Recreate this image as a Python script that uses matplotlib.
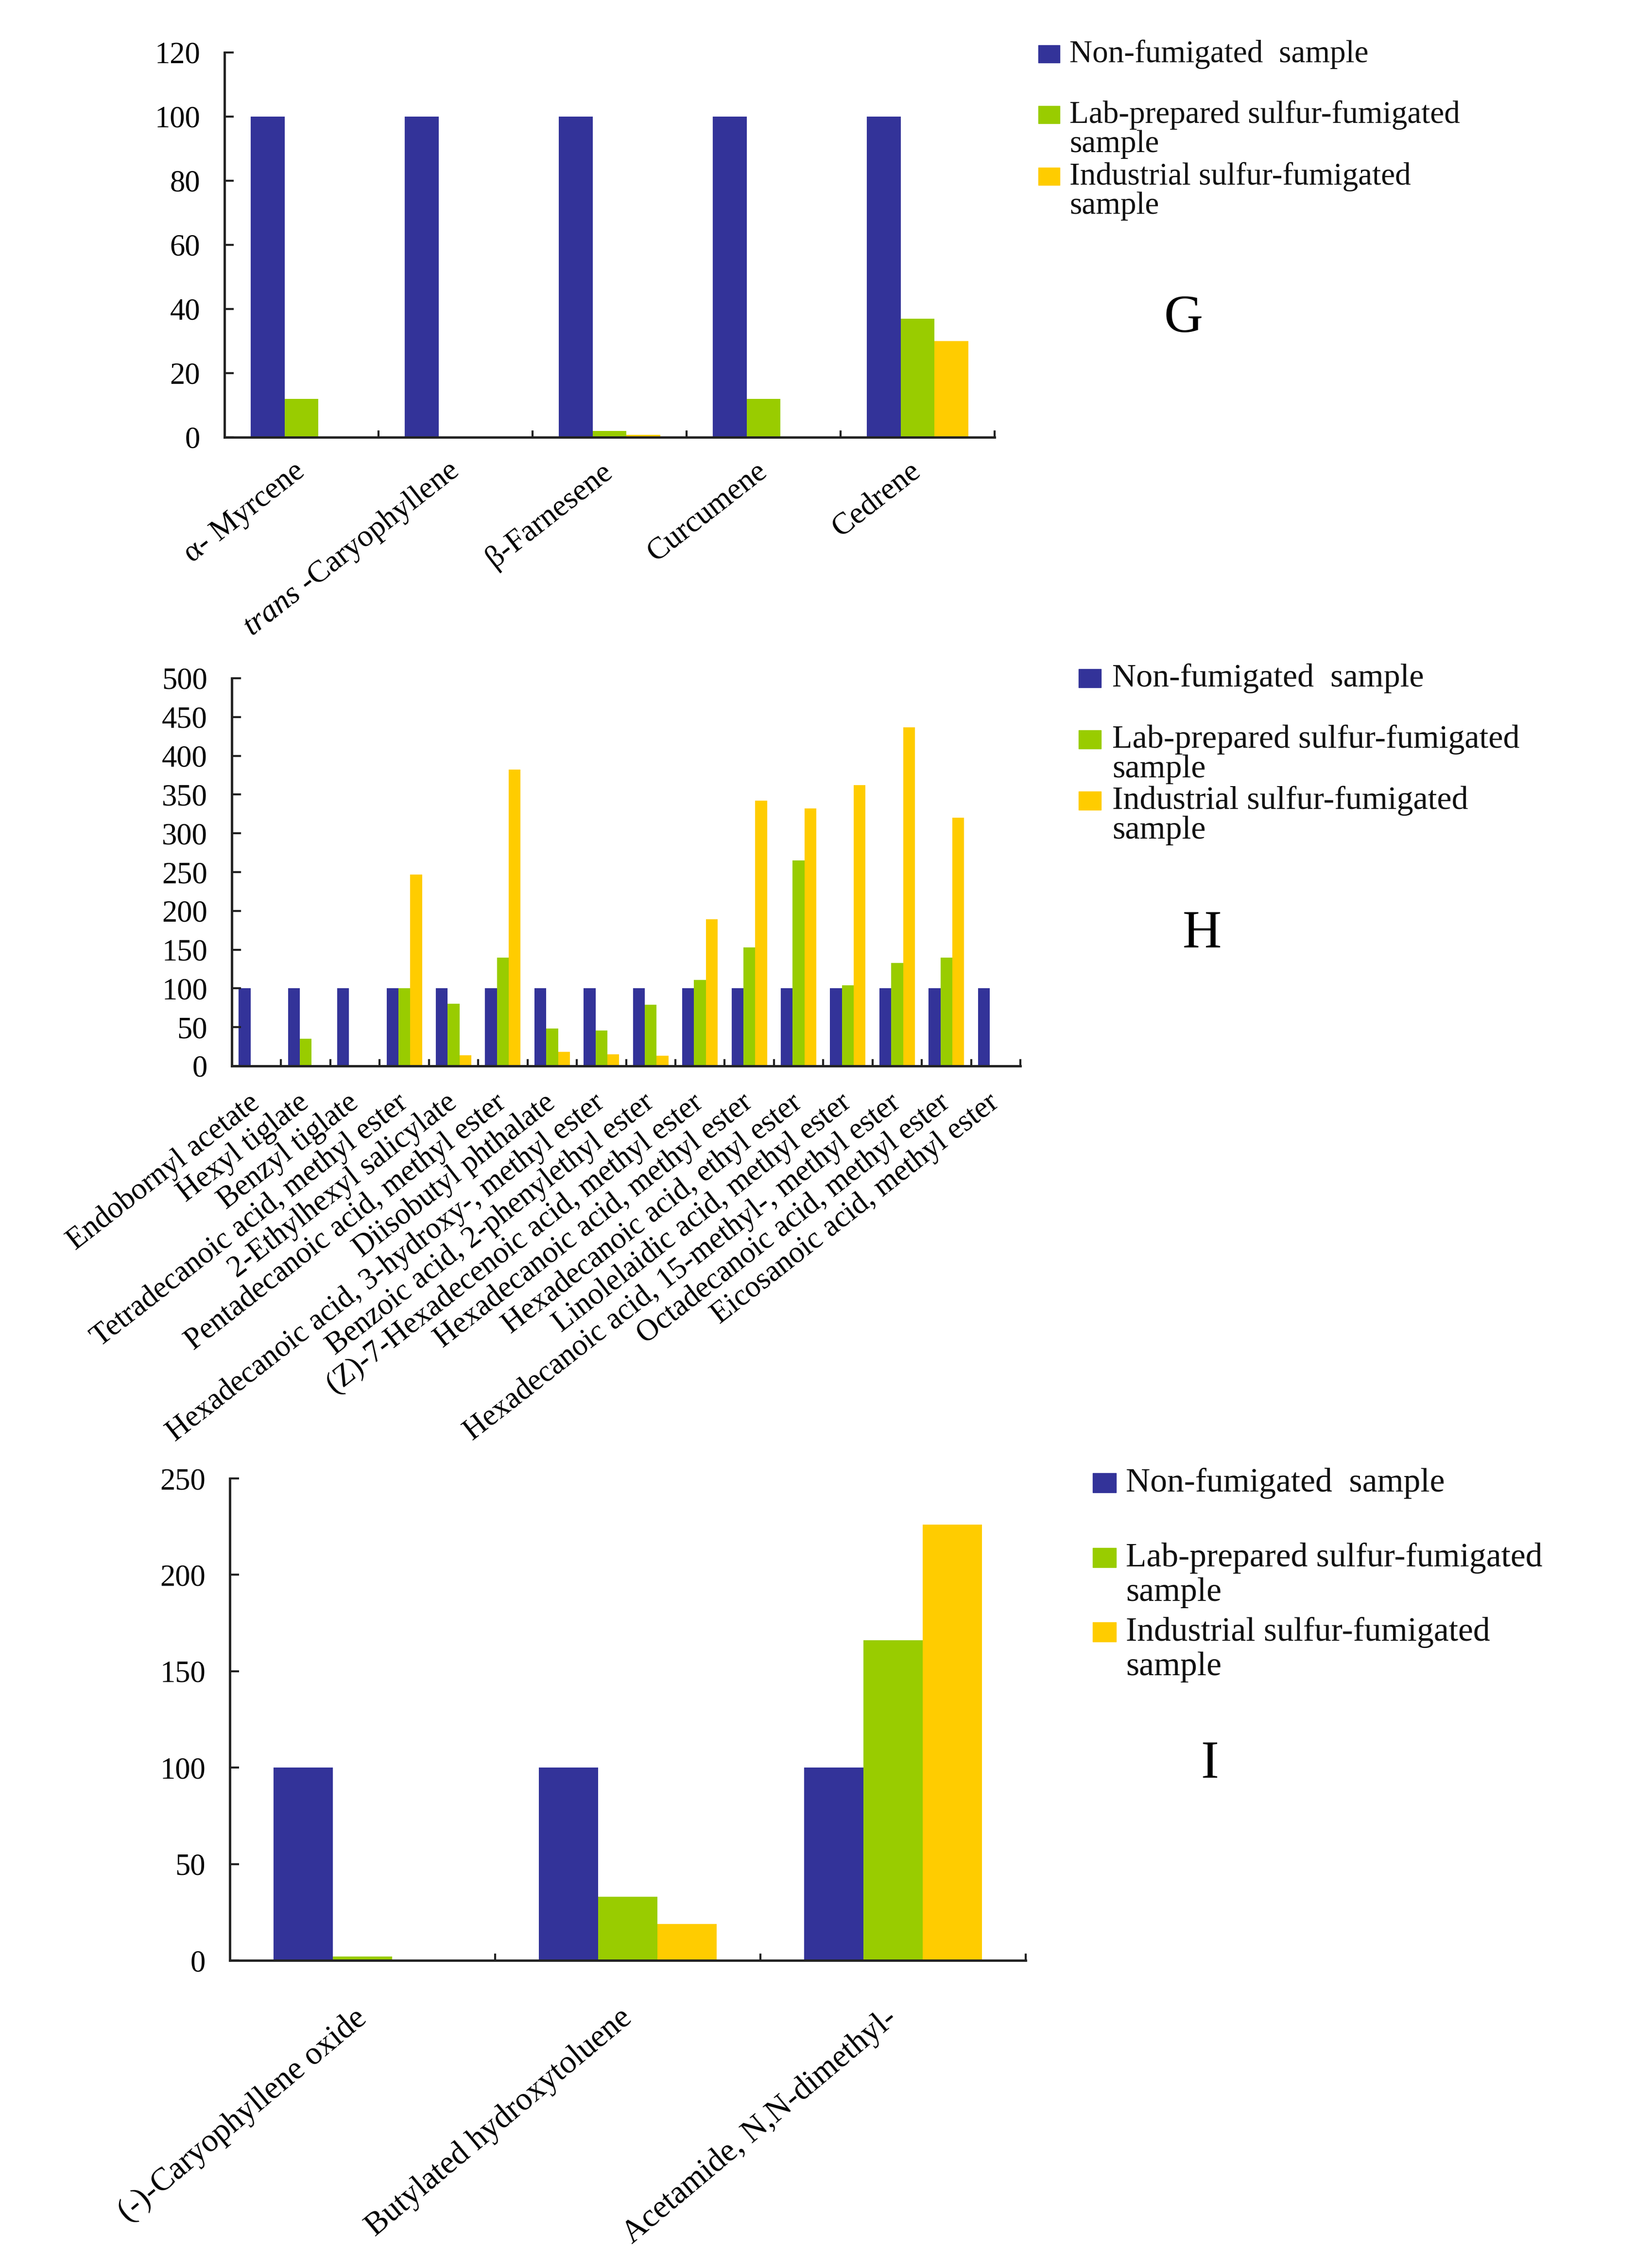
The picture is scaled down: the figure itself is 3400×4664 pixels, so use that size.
import numpy as np
import matplotlib
matplotlib.use('Agg')
from matplotlib import pyplot as plt
from matplotlib.patches import Rectangle

plt.rcParams['font.family'] = ['Liberation Serif', 'DejaVu Serif']
plt.rcParams['mathtext.fontset'] = 'custom'
plt.rcParams['mathtext.rm'] = 'Liberation Serif'
plt.rcParams['mathtext.it'] = 'Liberation Serif:italic'

W, H = 3400, 4664

series_names = ['Non-fumigated  sample',
                'Lab-prepared sulfur-fumigated\nsample',
                'Industrial sulfur-fumigated\nsample']
colors = ['#333399', '#99CC00', '#FFCC00']

# panel G
g_labels = ['\u03b1- Myrcene', '$\\it{trans}$ -Caryophyllene', '\u03b2-Farnesene',
            'Curcumene', 'Cedrene']
g_non = [100, 100, 100, 100, 100]
g_lab = [12, 0, 2, 12, 37]
g_ind = [0, 0, 0.8, 0, 30]

# panel H
h_labels = ['Endobornyl acetate', 'Hexyl tiglate', 'Benzyl tiglate',
            'Tetradecanoic acid, methyl ester', '2-Ethylhexyl salicylate',
            'Pentadecanoic acid, methyl ester', 'Diisobutyl phthalate',
            'Hexadecanoic acid, 3-hydroxy-, methyl ester',
            'Benzoic acid, 2-phenylethyl ester',
            '(Z)-7-Hexadecenoic acid, methyl ester',
            'Hexadecanoic acid, methyl ester', 'Hexadecanoic acid, ethyl ester',
            'Linolelaidic acid, methyl ester',
            'Hexadecanoic acid, 15-methyl-, methyl ester',
            'Octadecanoic acid, methyl ester', 'Eicosanoic acid, methyl ester']
h_non = [100] * 16
h_lab = [0, 35, 0, 100, 80, 140, 48, 46, 79, 111, 153, 265, 104, 133, 140, 0]
h_ind = [0, 0, 0, 247, 14, 382, 18, 15, 13, 189, 342, 332, 362, 437, 320, 0]

# panel I
i_labels = ['(-)-Caryophyllene oxide', 'Butylated hydroxytoluene',
            'Acetamide, N,N-dimethyl-']
i_non = [100, 100, 100]
i_lab = [2, 33, 166]
i_ind = [0, 19, 226]


def px_axes(fig, left, top, right, bottom):
    return fig.add_axes([left / W, 1 - bottom / H, (right - left) / W, (bottom - top) / H])


def draw_panel(ax, labels, values, ymax, ystep, width, rot, lab_pad, fs):
    x = np.arange(len(labels))
    for i, (vals, c) in enumerate(zip(values, colors)):
        ax.bar(x + (i - 1) * width, vals, width, color=c, linewidth=0)
    ax.set_xlim(-0.5, len(labels) - 0.5)
    ax.set_ylim(0, ymax)
    ax.set_yticks(np.arange(0, ymax + 1, ystep))
    ax.set_xticks(x)
    ax.set_xticklabels(labels, rotation=rot, ha='right', va='center',
                       rotation_mode='anchor', fontsize=fs)
    ax.set_xticks(np.arange(0.5, len(labels)), minor=True)
    ax.tick_params(axis='x', which='major', length=0, pad=lab_pad)
    ax.tick_params(axis='x', which='minor', direction='in', length=10, width=3, color='#222222')
    ax.tick_params(axis='y', direction='in', length=14, width=3, pad=36,
                   labelsize=45, color='#222222')
    for s in ['top', 'right']:
        ax.spines[s].set_visible(False)
    for s in ['left', 'bottom']:
        ax.spines[s].set_linewidth(3.5)
        ax.spines[s].set_color('#222222')


def draw_legend(fig, x_sq, x_txt, ys, sq, fs, ls, letter, letter_xy, letter_fs):
    for name, c, y in zip(series_names, colors, ys):
        fig.patches.append(Rectangle((x_sq / W, 1 - (y + sq[1] / 2) / H), sq[0] / W, sq[1] / H,
                                     transform=fig.transFigure, color=c, figure=fig))
        fig.text(x_txt / W, 1 - (y - 0.45 * fs * 100 / 72) / H, name, fontsize=fs,
                 va='top', ha='left', linespacing=ls, color='#111111')
    fig.text(letter_xy[0] / W, 1 - letter_xy[1] / H, letter, fontsize=letter_fs,
             ha='center', va='center')


fig = plt.figure(figsize=(W / 100, H / 100), dpi=100)

ax_g = px_axes(fig, 462, 108, 2047, 900)
draw_panel(ax_g, g_labels, [g_non, g_lab, g_ind], 120, 20, 0.22, 38, 46, 46)
draw_legend(fig, 2137, 2201, [111, 236, 363], (44, 36), 47, 1.0, 'G', (2436, 656), 80)

ax_h = px_axes(fig, 477, 1396, 2100, 2194)
draw_panel(ax_h, h_labels, [h_non, h_lab, h_ind], 500, 50, 0.24, 38, 50, 45)
draw_legend(fig, 2220, 2289, [1396, 1522, 1648], (46, 38), 49, 1.0, 'H', (2474, 1923), 80)

ax_i = px_axes(fig, 473, 3043, 2111, 4035)
draw_panel(ax_i, i_labels, [i_non, i_lab, i_ind], 250, 50, 0.223, 40, 80, 48)
draw_legend(fig, 2249, 2317, [3052, 3206, 3359], (48, 40), 50, 1.15, 'I', (2491, 3632), 80)

fig.savefig('out.png', dpi=100)
